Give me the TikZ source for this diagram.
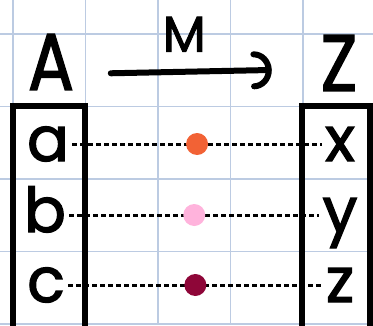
\documentclass[tikz,border=0pt]{standalone}
\usepackage{fontspec}
\setmainfont{Poppins}[FakeBold=2]
\usetikzlibrary{arrows.meta}
\definecolor{gridblue}{HTML}{BCCBE2}
\definecolor{dotorange}{HTML}{F26235}
\definecolor{dotpink}{HTML}{FFB3DC}
\definecolor{dotwine}{HTML}{8E0638}
\tikzset{
  setname/.style={font=\fontsize{80}{80}\selectfont, inner sep=2pt, xscale=0.85},
  maplabel/.style={font=\fontsize{50}{50}\selectfont, inner sep=0pt},
  elem/.style={font=\fontsize{62}{62}\selectfont, text height=34pt, text depth=0pt, inner sep=3pt},
  setbox/.style={line width=6pt},
  link/.style={line width=3pt, dash pattern=on 5pt off 3pt},
  dot/.style={circle, inner sep=0pt, minimum size=22pt},
  maparrow/.style={line width=6pt, line cap=round, -{Arc Barb[length=18pt, width=38pt, line width=6pt, round]}}
}

\begin{document}
\begin{tikzpicture}[x=1pt, y=-1pt]
    \useasboundingbox (0,0) rectangle (373,325);
    \clip (0,0) rectangle (373,325);

    % Grid
    \foreach \gx in {13,85.5,158,230.5,303}
        \draw[gridblue, line width=1.2pt] (\gx,0) -- (\gx,325);
    \foreach \gy in {34,106.5,179,251.5,324}
        \draw[gridblue, line width=1.2pt] (0,\gy) -- (373,\gy);

    % Sets
    \draw[setbox] (13,106) rectangle (85,340);
    \draw[setbox] (302,106) rectangle (370,340);
    \node[setname] (A) at (51,62) {A};
    \node[setname] (Z) at (339,63) {Z};

    % Map
    \draw[maparrow, shorten <=35pt, shorten >=47pt] ([yshift=-12pt]A.east) -- node[maplabel, above=17pt, xshift=-13pt] (M) {M} ([yshift=-6pt]Z.west);

    % Elements
    \node[elem] (a) at (48,144) {a};
    \node[elem] (b) at (45,215) {b};
    \node[elem] (c) at (46,285) {c};
    \node[elem] (x) at (340,144) {x};
    \node[elem] (y) at (340,215) {y};
    \node[elem] (z) at (340,285) {z};

    % Pairs
    \draw[link] (a) -- node[dot, fill=dotorange] (ma) {} (x);
    \draw[link] (b) -- node[dot, fill=dotpink] (mb) {} (y);
    \draw[link] (c) -- node[dot, fill=dotwine] (mc) {} (z);
\end{tikzpicture}
\end{document}
